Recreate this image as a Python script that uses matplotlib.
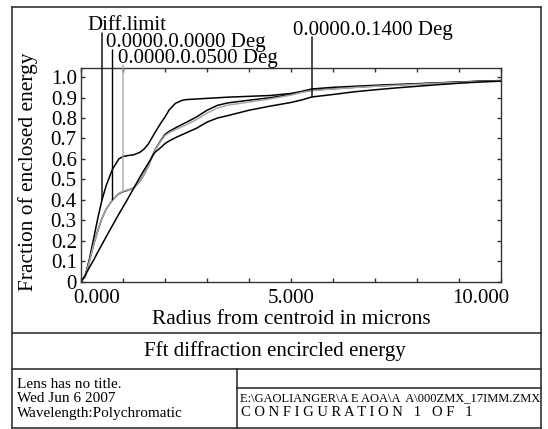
import matplotlib
matplotlib.use("Agg")
import matplotlib.pyplot as plt
from matplotlib.lines import Line2D
import matplotlib.transforms as mtransforms

plt.rcParams['font.family'] = ['Liberation Serif', 'DejaVu Serif']

# radius from centroid in microns
radius = [0, 0.1, 0.2, 0.3, 0.4, 0.5, 0.6, 0.75, 0.9, 1.0, 1.1, 1.25, 1.4, 1.5,
          1.6, 1.75, 1.9, 2.0, 2.1, 2.25, 2.4, 2.5, 2.75, 3.0, 3.25, 3.5, 4.0,
          4.5, 5.0, 5.25, 5.5, 6.0, 6.5, 7.0, 7.5, 8.0, 8.5, 9.0, 9.5, 10.0]

diff_limit = [0, 0.03, 0.11, 0.21, 0.31, 0.40, 0.47, 0.55, 0.60, 0.612, 0.616,
              0.620, 0.632, 0.648, 0.672, 0.725, 0.775, 0.805, 0.84, 0.872,
              0.886, 0.890, 0.893, 0.896, 0.899, 0.902, 0.906, 0.910, 0.920,
              0.930, 0.942, 0.950, 0.955, 0.960, 0.964, 0.968, 0.972, 0.976,
              0.980, 0.983]

deg_0000 = [0, 0.025, 0.10, 0.18, 0.25, 0.31, 0.355, 0.40, 0.43, 0.44, 0.446,
            0.458, 0.49, 0.525, 0.565, 0.64, 0.69, 0.72, 0.735, 0.752, 0.768,
            0.778, 0.805, 0.838, 0.862, 0.874, 0.887, 0.899, 0.915, 0.927,
            0.936, 0.943, 0.950, 0.956, 0.961, 0.966, 0.971, 0.975, 0.979,
            0.982]

deg_0500 = [0, 0.025, 0.10, 0.18, 0.25, 0.31, 0.355, 0.40, 0.432, 0.442, 0.448,
            0.458, 0.49, 0.525, 0.565, 0.638, 0.686, 0.714, 0.728, 0.743,
            0.757, 0.766, 0.792, 0.824, 0.849, 0.863, 0.878, 0.893, 0.912,
            0.925, 0.934, 0.942, 0.949, 0.955, 0.960, 0.965, 0.970, 0.974,
            0.978, 0.981]

deg_1400 = [0, 0.03, 0.07, 0.105, 0.145, 0.182, 0.22, 0.275, 0.33, 0.365, 0.40,
            0.455, 0.51, 0.545, 0.578, 0.63, 0.656, 0.675, 0.688, 0.704,
            0.718, 0.727, 0.75, 0.78, 0.80, 0.812, 0.838, 0.858, 0.876, 0.888,
            0.903, 0.915, 0.928, 0.938, 0.947, 0.955, 0.963, 0.970, 0.976,
            0.980]

series = [diff_limit, deg_0000, deg_0500, deg_1400]
series_names = ["Diff.limit", "0.0000.0.0000 Deg", "0.0000.0.0500 Deg",
                "0.0000.0.1400 Deg"]
series_colors = ["black", "black", "#a8a8a8", "black"]
label_radius = [0.5, 0.75, 1.0, 5.5]

x_ticks = [0, 5, 10]
x_tick_labels = ["0.000", "5.000", "10.000"]
y_ticks = [0, 0.1, 0.2, 0.3, 0.4, 0.5, 0.6, 0.7, 0.8, 0.9, 1.0]
y_tick_labels = ["0", "0.1", "0.2", "0.3", "0.4", "0.5", "0.6", "0.7", "0.8",
                 "0.9", "1.0"]

W, H = 548, 429
FS = 15


def fx(px):
    return px / W


def fy(py):
    return 1 - py / H


fig = plt.figure(figsize=(W / 100, H / 100), dpi=100)

ax = fig.add_axes([fx(81), fy(281.7), (501 - 81) / W, (281.7 - 68.3) / H])
for vals, col in zip(series, series_colors):
    ax.plot(radius, vals, color=col, lw=1.1)

ax.set_xlim(0, 10)
ax.set_ylim(0, 1.043)
ax.set_xticks(range(0, 11))
ax.set_xticklabels([])
ax.set_yticks(y_ticks)
ax.set_yticklabels(y_tick_labels)
ax.tick_params(direction="in", top=True, right=True, length=3, width=1,
               labelsize=FS, pad=3, colors="#333333", labelcolor="black")
for sp in ax.spines.values():
    sp.set_color("#333333")
    sp.set_linewidth(1)

x_shift = [16, 0, -20]
for xv, lab, dx in zip(x_ticks, x_tick_labels, x_shift):
    ax.annotate(lab, xy=(xv, 0), xycoords=("data", "axes fraction"),
                xytext=(dx * 0.72, -5), textcoords="offset points",
                ha="center", va="top", fontsize=FS)

ax.set_xlabel("Radius from centroid in microns", fontsize=FS + 0.4)
ax.set_ylabel("Fraction of enclosed energy", fontsize=FS + 0.4)
ax.xaxis.set_label_coords(0.5, (281.7 - 320) / 213.4, transform=ax.transAxes)
ax.xaxis.label.set_va("center")
ax.yaxis.label.set_va("center")
ax.yaxis.set_label_coords((28 - 81) / 420, (281.7 - 172) / 213.4)

# leader lines and labels of the curves
label_px = [87, 106, 118, 293]
label_base = [30, 47, 63, 35]
line_top = [33, 50, 65, 37]
trans = mtransforms.blended_transform_factory(ax.transData, fig.transFigure)
for name, vals, col, rx, lpx, lb, lt in zip(series_names, series, series_colors,
                                            label_radius, label_px, label_base,
                                            line_top):
    i = radius.index(rx)
    ax.annotate("", xy=(rx, vals[i]), xycoords="data",
                xytext=(rx, fy(lt)), textcoords=trans,
                arrowprops=dict(arrowstyle="-", color=col, lw=1.0,
                                shrinkA=0, shrinkB=0),
                annotation_clip=False)
    fig.text(fx(lpx), fy(lb), name, fontsize=FS, ha="left", va="baseline")

# frame and footer table
frame_col = "#333333"
segs = [
    ((12, 7), (541, 7)), ((12, 428), (541, 428)),
    ((12, 7), (12, 428)), ((541, 7), (541, 428)),
    ((12, 333), (541, 333)), ((12, 369), (541, 369)),
    ((237, 369), (237, 428)), ((237, 388), (541, 388)),
]
for (x0, y0), (x1, y1) in segs:
    fig.add_artist(Line2D([fx(x0), fx(x1)], [fy(y0), fy(y1)], color=frame_col,
                          lw=1.2, transform=fig.transFigure))

fig.text(fx(275), fy(351), "Fft diffraction encircled energy", fontsize=FS,
         ha="center", va="center")

left_lines = ["Lens has no title.", "Wed Jun 6 2007", "Wavelength:Polychromatic"]
for s, py in zip(left_lines, [384, 399, 414]):
    fig.text(fx(17), fy(py), s, fontsize=11, ha="left", va="center")

fig.text(fx(240), fy(398), r"E:\GAOLIANGER\A E AOA\A  A\000ZMX_17IMM.ZMX",
         fontsize=9, ha="left", va="center")
fig.text(fx(241), fy(413), "C O N F I G U R A T I O N   1   O F   1",
         fontsize=10.5, ha="left", va="center")

fig.savefig("out.png", dpi=100)
